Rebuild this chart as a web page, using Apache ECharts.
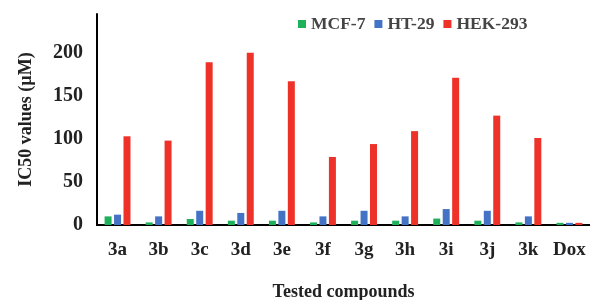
<!DOCTYPE html>
<html lang="en">

<head>
    <meta charset="UTF-8">
    <script src="https://cdn.jsdelivr.net/npm/echarts@6/dist/echarts.min.js"></script>
    <title>IC50 values</title>
</head>

<body style="margin:0">
    <div id="main" style="width: 590px;height:300px;"></div>
    <script>
        // data
        var categories = ['3a', '3b', '3c', '3d', '3e', '3f', '3g', '3h', '3i', '3j', '3k', 'Dox'];
        var mcf7 = [10, 3, 7, 5, 5, 3, 5, 5, 7.5, 5, 3, 2.5];
        var ht29 = [12, 10, 16.5, 14, 16.5, 10, 16.5, 10, 18.5, 16.5, 10, 2.5];
        var hek293 = [103, 98, 189, 200, 167, 79, 94, 109, 171, 127, 101, 2.5];
        var yTicks = [0, 50, 100, 150, 200];

        var serif = '"Liberation Serif", "DejaVu Serif", serif';
        var myChart = echarts.init(document.getElementById('main'));
        var option = {
            animation: false,
            textStyle: { fontFamily: serif },
            legend: {
                top: 10,
                left: 293,
                itemWidth: 8,
                itemHeight: 8,
                itemGap: 9,
                icon: 'rect',
                textStyle: { fontFamily: serif, fontSize: 17.5, fontWeight: 'bold', color: '#444', padding: [0, 0, 0, 0] },
                data: ['MCF-7', 'HT-29', 'HEK-293']
            },
            grid: { left: 97, right: 0, top: 14, bottom: 75, outerBoundsMode: 'none', containLabel: false },
            xAxis: {
                type: 'category',
                data: categories,
                name: 'Tested compounds',
                nameLocation: 'middle',
                nameGap: 58,
                nameTextStyle: { fontFamily: serif, fontSize: 18, fontWeight: 'bold', color: '#222' },
                axisLine: { lineStyle: { color: '#000', width: 2 } },
                axisTick: { show: false },
                axisLabel: { interval: 0, fontFamily: serif, fontSize: 19, fontWeight: 'bold', color: '#222', margin: 16 }
            },
            yAxis: {
                type: 'value',
                min: 0,
                max: 245,
                interval: 50,
                name: 'IC50 values (µM)',
                nameLocation: 'middle',
                nameGap: 62,
                nameTextStyle: { fontFamily: serif, fontSize: 18, fontWeight: 'bold', color: '#222' },
                splitLine: { show: false },
                axisLine: { show: true, lineStyle: { color: '#000', width: 2 } },
                axisTick: { show: false },
                axisLabel: {
                    fontFamily: serif, fontSize: 20, fontWeight: 'bold', color: '#222', margin: 14,
                    showMaxLabel: false,
                    formatter: function (v) { return yTicks.indexOf(v) >= 0 ? v : ''; }
                }
            },
            series: [
                { name: 'MCF-7', type: 'bar', data: mcf7, barWidth: 7, barGap: '35%', itemStyle: { color: '#1fb05a' } },
                { name: 'HT-29', type: 'bar', data: ht29, barWidth: 7, barGap: '35%', itemStyle: { color: '#4472c4' } },
                { name: 'HEK-293', type: 'bar', data: hek293, barWidth: 7, barGap: '35%', itemStyle: { color: '#ee3229' } }
            ]
        };
        myChart.setOption(option);
    </script>
</body>

</html>
